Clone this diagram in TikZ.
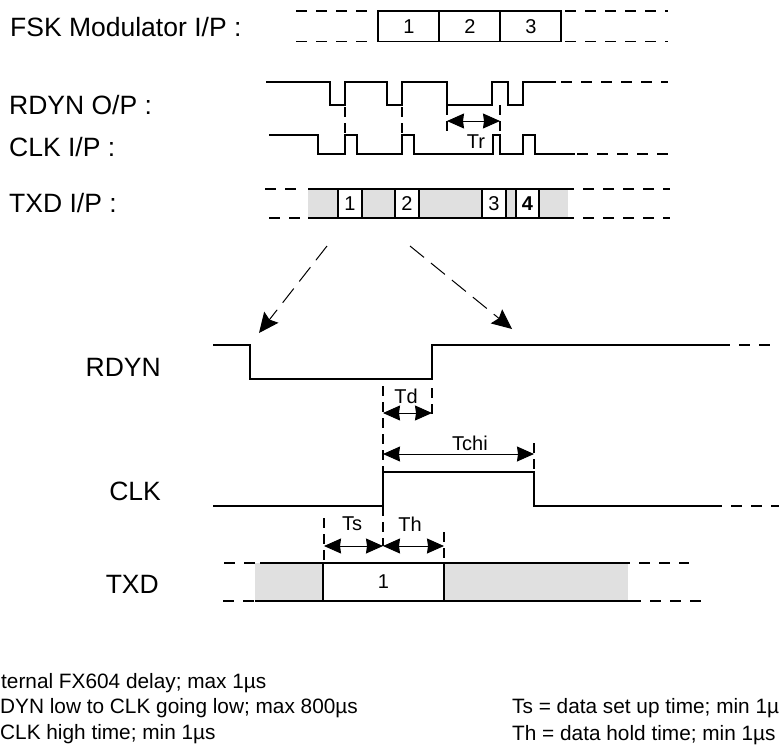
\documentclass[tikz,border=0pt]{standalone}
\usepackage{fontspec}
\setmainfont{Liberation Sans}
\usetikzlibrary{arrows.meta}

\begin{document}
\begin{tikzpicture}[x=1pt,y=-1pt,
    wave/.style={line width=1.2pt},
    tail/.style={line width=1.2pt,dash pattern=on 11pt off 9pt},
    guide/.style={line width=1.2pt,dash pattern=on 10pt off 6pt},
    far/.style={line width=1pt,dash pattern=on 18pt off 9pt,-{Stealth[length=20pt,width=18pt,inset=3pt]}},
    span/.style={line width=1pt,{Stealth[length=17pt,width=15pt,inset=1pt]}-{Stealth[length=17pt,width=15pt,inset=1pt]}},
    sig/.style={font=\fontsize{26.5}{26.5}\selectfont,inner sep=0pt},
    cell/.style={font=\fontsize{20}{20}\selectfont,inner sep=0pt},
    gap/.style={fill=black!12},
    slot/.style={draw,fill=white,line width=1.2pt,inner sep=0pt,minimum height=0pt},
    note/.style={font=\fontsize{20.8}{20.8}\selectfont,anchor=base west,inner sep=0pt}]

    \useasboundingbox (0,0) rectangle (779,745);
    \clip (0,0) rectangle (779,745);

    % signal names
    \node[sig,anchor=west] (LFsk) at (10,27) {FSK Modulator I/P :};
    \node[sig,anchor=west] (LRdy) at (9,105) {RDYN O/P :};
    \node[sig,anchor=west] (LClk) at (9,147) {CLK I/P :};
    \node[sig,anchor=west] (LTxd) at (9,203) {TXD I/P :};
    \node[sig,anchor=east] (NRdy) at (161,367) {RDYN};
    \node[sig,anchor=east] (NClk) at (161,491) {CLK};
    \node[sig,anchor=east] (NTxd) at (159,584) {TXD};

    % FSK data
    \draw[wave] (378,11) rectangle (561,41.5);
    \draw[wave] (439,11) -- (439,41.5);
    \draw[wave] (500,11) -- (500,41.5);
    \draw[tail] (296,11) -- (376,11);
    \draw[tail] (296,41.5) -- (376,41.5);
    \draw[tail] (565,11) -- (668,11);
    \draw[tail] (565,41.5) -- (668,41.5);
    \node[cell] (F1) at (409,27) {1};
    \node[cell] (F2) at (470,27) {2};
    \node[cell] (F3) at (531,27) {3};

    % upper RDYN and CLK
    \draw[wave] (266,82) -| (330,105) -| (345,82) -| (387,105) -| (402,82)
        -| (447,105) -| (492,82) -| (508,105) -| (523,82) -- (556,82);
    \draw[tail] (561,82) -- (668,82);
    \draw[wave] (269,135) -| (318,154) -| (345,135) -| (357,154) -| (402,135)
        -| (414,154) -| (493,135) -| (500,154) -| (523,135) -| (535,154) -- (575,154);
    \draw[tail] (577,154) -- (673,154);
    \draw[guide] (345,107) -- (345,135);
    \draw[guide] (402,107) -- (402,135);
    \draw[guide] (447,105) -- (447,132);
    \draw[guide] (500,105) -- (500,135);
    \coordinate (TrA) at (447,121);
    \coordinate (TrB) at (500,121);
    \draw[span] (TrA) -- (TrB);
    \node[cell] (Tr) at (476,142) {Tr};

    % upper TXD
    \fill[gap] (308,189) rectangle (568,218);
    \node[slot,minimum width=24pt,minimum height=29pt] (T1) at (350,203.5) {};
    \node[slot,minimum width=24pt,minimum height=29pt] (T2) at (407,203.5) {};
    \node[slot,minimum width=24pt,minimum height=29pt] (T3) at (494,203.5) {};
    \node[slot,minimum width=23pt,minimum height=29pt] (T4) at (527.5,203.5) {};
    \draw[wave] (308,189) -- (574,189);
    \draw[wave] (308,218) -- (574,218);
    \draw[tail] (265,189) -- (305,189);
    \draw[tail] (269,218) -- (305,218);
    \draw[tail] (583,189) -- (670,189);
    \draw[tail] (583,218) -- (670,218);
    \node[cell] at (T1) {1};
    \node[cell] at (T2) {2};
    \node[cell] at (T3) {3};
    \node[cell,font=\fontsize{20}{20}\selectfont\bfseries] at (T4) {4};

    % zoom arrows
    \coordinate (ZaA) at (327,246);
    \coordinate (ZaB) at (259,333);
    \coordinate (ZbA) at (410,246);
    \coordinate (ZbB) at (512,329);
    \draw[far] (ZaA) -- (ZaB);
    \draw[far] (ZbA) -- (ZbB);

    % lower RDYN
    \draw[wave] (213,345) -| (250,379) -| (432,345) -- (719,345);
    \draw[tail] (719,345) -- (779,345);

    % Td
    \draw[guide] (383,386) -- (383,472);
    \draw[guide] (432,388) -- (432,418);
    \coordinate (TdA) at (383,413);
    \coordinate (TdB) at (432,413);
    \draw[span] (TdA) -- (TdB);
    \node[cell] (Td) at (406,396) {Td};

    % lower CLK
    \draw[wave] (213,506) -| (383,472) -| (534,506) -- (722,506);
    \draw[tail] (731,506) -- (779,506);
    \draw[guide] (534,443) -- (534,472);
    \coordinate (TcA) at (383,454);
    \coordinate (TcB) at (534,454);
    \draw[span] (TcA) -- (TcB);
    \node[cell] (Tchi) at (470,443) {Tchi};

    % lower TXD
    \fill[gap] (255,563) rectangle (628,601);
    \node[slot,minimum width=121pt,minimum height=38pt] (D1) at (383.5,582) {};
    \draw[wave] (260,563) -- (630,563);
    \draw[wave] (255,601) -- (630,601);
    \draw[tail] (224,563) -- (256,563);
    \draw[tail] (223,601) -- (255,601);
    \draw[tail] (639,563) -- (689,563);
    \draw[tail] (630,601) -- (701,601);
    \node[cell] at (D1) {1};

    % Ts and Th
    \draw[guide] (383,506) -- (383,546);
    \draw[guide] (324,518) -- (324,563);
    \draw[guide] (444,532) -- (444,563);
    \coordinate (TsA) at (324,546);
    \coordinate (TsB) at (383,546);
    \coordinate (ThB) at (444,546);
    \draw[span] (TsA) -- (TsB);
    \draw[span] (TsB) -- (ThB);
    \node[cell] (Ts) at (352,524) {Ts};
    \node[cell] (Th) at (410,524) {Th};

    % notes
    \node[note] (N1) at (1,688) {ternal FX604 delay; max 1µs};
    \node[note] (N2) at (0,713.5) {DYN low to CLK going low; max 800µs};
    \node[note] (N3) at (0,739) {CLK high time; min 1µs};
    \node[note] (N4) at (512,713.5) {Ts = data set up time; min 1µ};
    \node[note] (N5) at (512,740) {Th = data hold time; min 1µs};
\end{tikzpicture}
\end{document}
